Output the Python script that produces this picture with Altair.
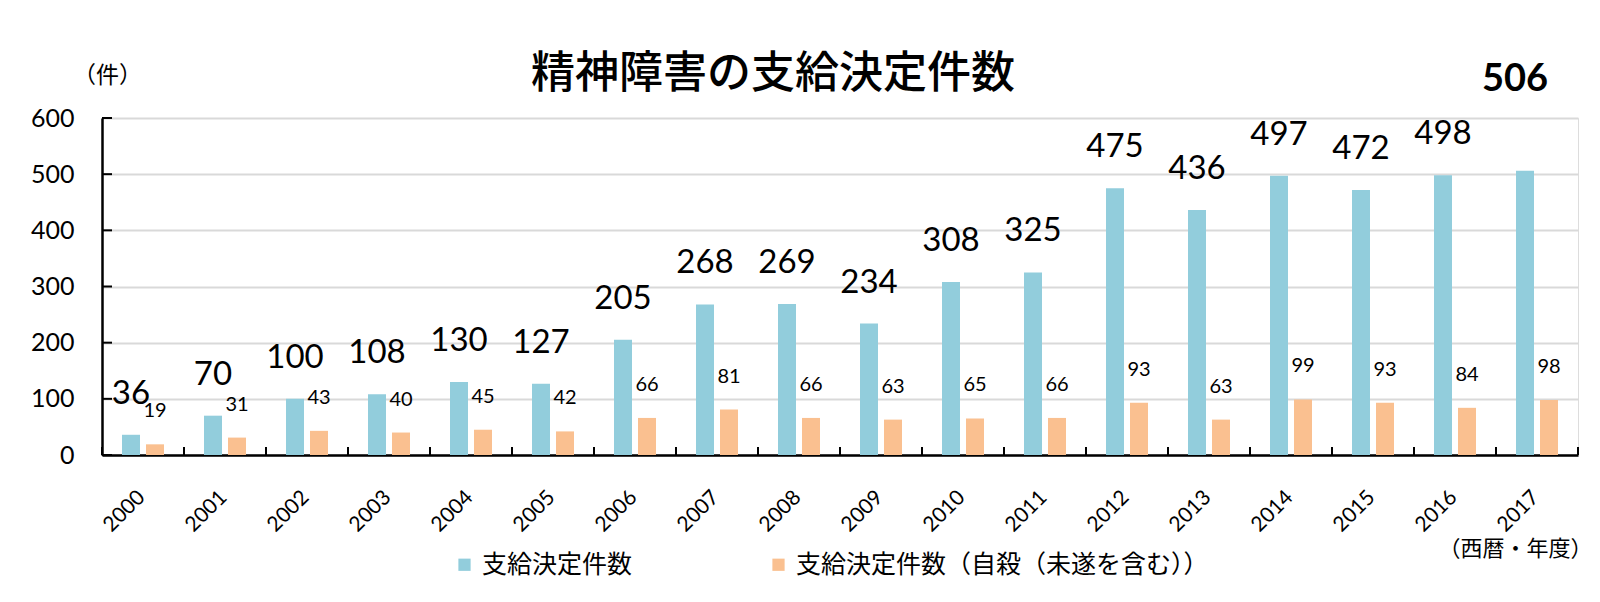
import altair as alt
import pandas as pd

years = ["2000", "2001", "2002", "2003", "2004", "2005", "2006", "2007", "2008",
         "2009", "2010", "2011", "2012", "2013", "2014", "2015", "2016", "2017"]
total = [36, 70, 100, 108, 130, 127, 205, 268, 269, 234, 308, 325, 475, 436, 497, 472, 498, 506]
suicide = [19, 31, 43, 40, 45, 42, 66, 81, 66, 63, 65, 66, 93, 63, 99, 93, 84, 98]
series_names = ["支給決定件数", "支給決定件数（自殺（未遂を含む））"]
colors = ["#92CDDC", "#FAC090"]
y_ticks = [0, 100, 200, 300, 400, 500, 600]

JP = "Noto Sans CJK JP"
NUM = "Lato"
W, H = 1476, 337

df = pd.DataFrame({
    "year": years + years,
    "series": [series_names[0]] * len(years) + [series_names[1]] * len(years),
    "value": total + suicide,
})

x_axis = alt.Axis(
    title="（西暦・年度）", titleFont=JP, titleFontSize=22, titleFontWeight="normal",
    titleColor="black", titleX=W + 14, titleY=93, titleAlign="right", titleBaseline="middle",
    titleLimit=1000,
    labelAngle=-45, labelFont=NUM, labelFontSize=21, labelColor="black", labelPadding=31,
    labelOffset=-9,
    ticks=False, domainColor="black", domainWidth=2.5, grid=False,
)
y_axis = alt.Axis(
    values=y_ticks, title="（件）", titleAngle=0, titleFont=JP, titleFontSize=23,
    titleFontWeight="normal", titleColor="black", titleX=5, titleY=-43,
    titleAlign="center", titleBaseline="middle",
    labelFont=NUM, labelFontSize=25, labelColor="black", labelPadding=28,
    ticks=False, domainColor="black", domainWidth=2.5,
    grid=True, gridColor="#D9D9D9", gridWidth=2,
)

x_enc = alt.X("year:N", sort=years, scale=alt.Scale(paddingInner=0, paddingOuter=0), axis=x_axis)
xoff = alt.XOffset("series:N", sort=series_names,
                   scale=alt.Scale(domain=series_names, paddingInner=0.25, paddingOuter=0.8333))
y_enc = alt.Y("value:Q", scale=alt.Scale(domain=[0, 600]), axis=y_axis)

base = alt.Chart(df)

bars = base.mark_bar().encode(
    x=x_enc, xOffset=xoff, y=y_enc,
    color=alt.Color("series:N", sort=series_names,
                    scale=alt.Scale(domain=series_names, range=colors),
                    legend=alt.Legend(
                        title=None, orient="none", legendX=350, legendY=434,
                        direction="horizontal", symbolType="square", symbolSize=150,
                        symbolStrokeWidth=0, labelFont=JP, labelFontSize=25,
                        labelColor="black", labelOffset=5, columnPadding=133,
                        labelLimit=1000,
                    )),
)

blue_labels = base.transform_filter(
    (alt.datum.series == series_names[0]) & (alt.datum.year != "2017")
).mark_text(font=NUM, fontSize=33, color="black", baseline="middle", dy=-41).encode(
    x=alt.X("year:N", sort=years), xOffset=xoff, y="value:Q", text="value:Q"
)

last_label = base.transform_filter(
    (alt.datum.series == series_names[0]) & (alt.datum.year == "2017")
).mark_text(font=NUM, fontSize=38, fontWeight="bold", color="black", baseline="middle",
            dy=-91, dx=-10).encode(
    x=alt.X("year:N", sort=years), xOffset=xoff, y="value:Q", text="value:Q"
)

orange_labels = base.transform_filter(
    alt.datum.series == series_names[1]
).mark_text(font=NUM, fontSize=20, color="black", baseline="middle", dy=-33).encode(
    x=alt.X("year:N", sort=years), xOffset=xoff, y="value:Q", text="value:Q"
)

x_ticks = alt.Chart(pd.DataFrame({"year": years})).mark_rule(color="black", strokeWidth=2).encode(
    x=alt.X("year:N", sort=years, bandPosition=0), y=alt.value(H - 8), y2=alt.value(H)
)
end_tick = alt.Chart(pd.DataFrame({"year": [years[-1]]})).mark_rule(color="black", strokeWidth=2).encode(
    x=alt.value(W), y=alt.value(H - 8), y2=alt.value(H)
)
y_tick_marks = alt.Chart(pd.DataFrame({"value": y_ticks})).mark_rule(color="black", strokeWidth=2).encode(
    y="value:Q", x=alt.value(0), x2=alt.value(10)
)

chart = alt.layer(bars, blue_labels, last_label, orange_labels, x_ticks, end_tick, y_tick_marks).properties(
    width=W, height=H,
    title=alt.TitleParams("精神障害の支給決定件数", font=JP, fontSize=44, fontWeight=500,
                          color="black", anchor="middle", dx=-67, offset=-36),
    padding={"left": 94, "top": 110, "right": 14, "bottom": 130},
    autosize="none",
).configure_view(stroke=None).configure(background="white")

chart.save("out.html", embed_options={"renderer": "svg", "actions": False})
